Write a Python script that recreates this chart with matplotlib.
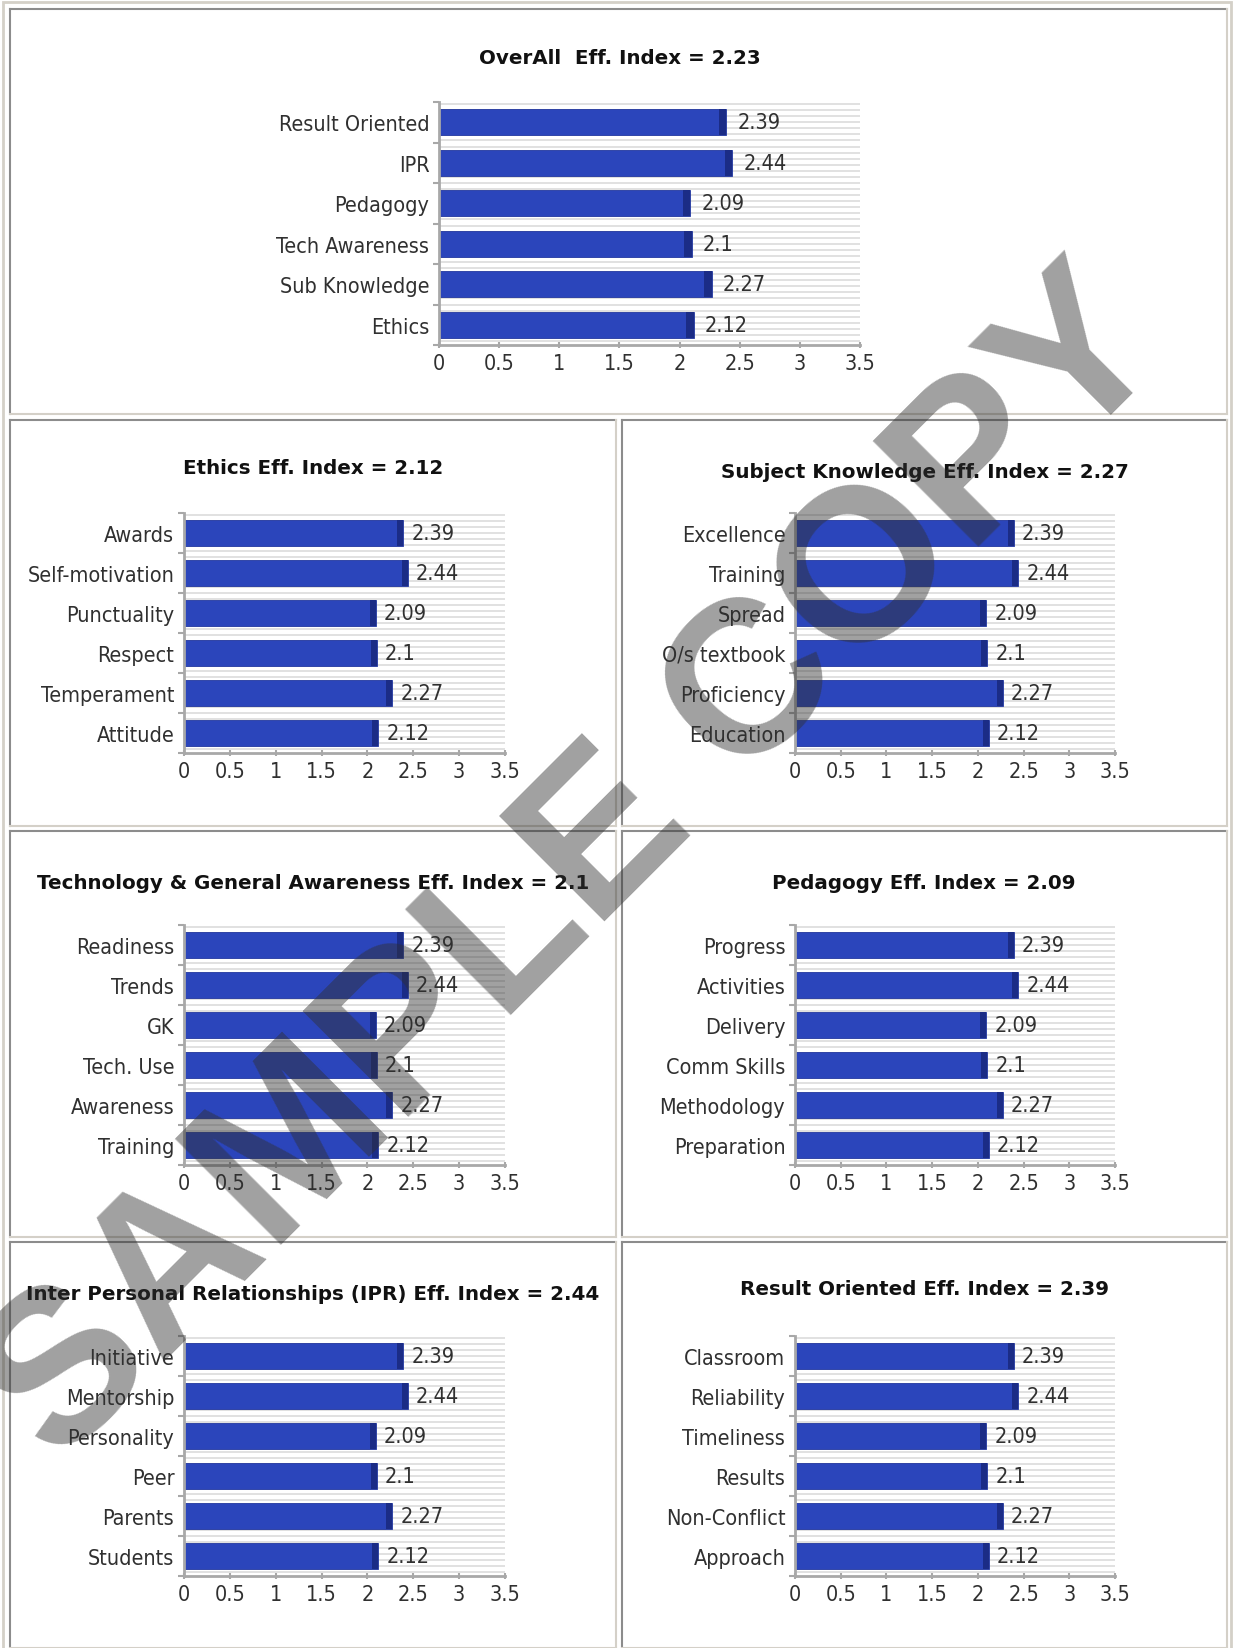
import numpy as np
import matplotlib
matplotlib.use("Agg")
import matplotlib.pyplot as plt
from matplotlib.patches import Rectangle
from matplotlib.lines import Line2D

W, H = 1237, 1649

# same six scores are shown in every panel
values = [2.39, 2.44, 2.09, 2.1, 2.27, 2.12]
xticks = [0, 0.5, 1, 1.5, 2, 2.5, 3, 3.5]
xticklabels = ["0", "0.5", "1", "1.5", "2", "2.5", "3", "3.5"]

overall_title = "OverAll  Eff. Index = 2.23"
overall_labels = ["Result Oriented", "IPR", "Pedagogy", "Tech Awareness", "Sub Knowledge", "Ethics"]
ethics_title = "Ethics Eff. Index = 2.12"
ethics_labels = ["Awards", "Self-motivation", "Punctuality", "Respect", "Temperament", "Attitude"]
subject_title = "Subject Knowledge Eff. Index = 2.27"
subject_labels = ["Excellence", "Training", "Spread", "O/s textbook", "Proficiency", "Education"]
tech_title = "Technology & General Awareness Eff. Index = 2.1"
tech_labels = ["Readiness", "Trends", "GK", "Tech. Use", "Awareness", "Training"]
pedagogy_title = "Pedagogy Eff. Index = 2.09"
pedagogy_labels = ["Progress", "Activities", "Delivery", "Comm Skills", "Methodology", "Preparation"]
ipr_title = "Inter Personal Relationships (IPR) Eff. Index = 2.44"
ipr_labels = ["Initiative", "Mentorship", "Personality", "Peer", "Parents", "Students"]
result_title = "Result Oriented Eff. Index = 2.39"
result_labels = ["Classroom", "Reliability", "Timeliness", "Results", "Non-Conflict", "Approach"]

BAR = "#2b45bb"
BAR_DARK = "#1b2c86"
AXIS = "#a8a8a8"
TXT = "#303030"

fig = plt.figure(figsize=(W / 100, H / 100), dpi=100)
fig.patch.set_facecolor("white")


def fx(x):
    return x / W


def fy(y):
    return 1 - y / H


def cell(l, t, r, b):
    # table cell: darker top/left edge, light bottom/right edge
    fig.add_artist(Line2D([fx(l), fx(r)], [fy(t), fy(t)], color="#8c8c8c", lw=1.5))
    fig.add_artist(Line2D([fx(l), fx(l)], [fy(t), fy(b)], color="#8c8c8c", lw=1.5))
    fig.add_artist(Line2D([fx(r), fx(r)], [fy(t), fy(b)], color="#d4d0c8", lw=1.5))
    fig.add_artist(Line2D([fx(l), fx(r)], [fy(b), fy(b)], color="#d4d0c8", lw=1.5))


# outer table border
fig.add_artist(Rectangle((fx(3), fy(1652)), fx(1231) - fx(3), fy(3) - fy(1652),
                         fill=False, ec="#d4d0c8", lw=2))
cell(10, 10, 1227, 415)
for top in [421, 832, 1243]:
    cell(10, top, 616, top + 406)
    cell(622, top, 1227, top + 406)


def panel(box, title, tpos, labels):
    l, t, r, b = box
    ax = fig.add_axes([fx(l), fy(b), fx(r) - fx(l), fy(t) - fy(b)])
    y = np.arange(len(labels))
    ax.set_xlim(0, 3.5)
    ax.set_ylim(len(labels) - 0.5, -0.5)
    for s in np.arange(-0.45, len(labels) - 0.5, 0.15):
        ax.axhline(s, color="#dedede", lw=1.3, zorder=0)
    vals = np.array(values)
    ax.barh(y, vals, height=0.63, color=BAR, ec="#22379e", lw=0.6, zorder=2)
    ax.barh(y, 0.065, left=vals - 0.065, height=0.63, color=BAR_DARK, lw=0, zorder=3)
    for yi, v in zip(y, vals):
        ax.text(v + 0.09, yi, f"{v:g}", va="center", ha="left", fontsize=15.5,
                fontstretch="condensed", color=TXT, zorder=4)
    ax.set_yticks(y)
    ax.set_yticklabels(labels, fontsize=15.5, fontstretch="condensed", color=TXT)
    ax.set_yticks(np.arange(-0.5, len(labels)), minor=True)
    ax.tick_params(axis="y", which="major", length=0, pad=7)
    ax.tick_params(axis="y", which="minor", length=4, color=AXIS, width=1.5, direction="out")
    ax.set_xticks(xticks)
    ax.set_xticklabels(xticklabels, fontsize=15.5, fontstretch="condensed", color=TXT)
    ax.tick_params(axis="x", length=5, color=AXIS, width=1.5, direction="inout", pad=3)
    for side in ["top", "right"]:
        ax.spines[side].set_visible(False)
    for side in ["left", "bottom"]:
        ax.spines[side].set_color(AXIS)
        ax.spines[side].set_linewidth(2)
    ax.set_facecolor("white")
    fig.text(fx(tpos[0]), fy(tpos[1]), title, ha="center", va="center",
             fontsize=14.3, fontweight="bold", color="#111111")
    return ax


panel((439, 103, 860, 346), overall_title, (620, 58), overall_labels)
panel((184, 514, 505, 754), ethics_title, (313, 469), ethics_labels)
panel((795, 514, 1115, 754), subject_title, (925, 473), subject_labels)
panel((184, 926, 505, 1166), tech_title, (313, 884), tech_labels)
panel((795, 926, 1115, 1166), pedagogy_title, (924, 884), pedagogy_labels)
panel((184, 1337, 505, 1577), ipr_title, (313, 1295), ipr_labels)
panel((795, 1337, 1115, 1577), result_title, (924, 1290), result_labels)

# watermark, anchored on its baseline centre
fig.text(fx(616), fy(910), "SAMPLE COPY", ha="center", va="baseline", rotation=45,
         rotation_mode="anchor", fontsize=156, fontweight="bold",
         family=["Liberation Sans", "DejaVu Sans"], color="#303030", alpha=0.46, zorder=10)

fig.savefig("out.png", dpi=100)
